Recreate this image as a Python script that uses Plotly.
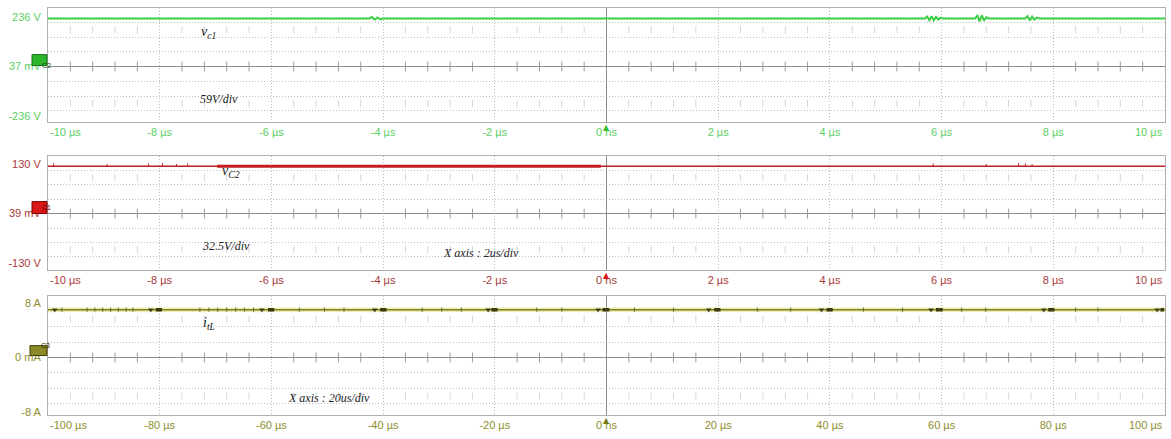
import numpy as np
import plotly.graph_objects as go

W, H = 1171, 439

# ---------------- data ----------------
# Channel C2 : v_c1 (V) over -10..10 us
vc1_t = [-10.0, -4.25, -4.2, -4.15, -4.1, -4.05, -4.0,
         5.70, 5.74, 5.78, 5.82, 5.86, 5.90, 5.94, 5.98, 6.02,
         6.60, 6.64, 6.68, 6.72, 6.76, 6.80, 6.84,
         7.50, 7.54, 7.58, 7.62, 7.66, 7.70, 7.75, 10.0]
vc1_v = [228, 228, 235, 222, 233, 224, 228,
         228, 237, 220, 239, 219, 235, 223, 232, 228,
         228, 241, 214, 243, 218, 234, 228,
         228, 239, 218, 237, 222, 232, 228, 228]

# Channel C1 : v_C2 (V) over -10..10 us
vc2_t = [-10.0, 10.0]
vc2_v = [124, 124]
vc2_dense_t = [-6.97, -0.1]          # stretch with dense ripple
vc2_dense_v = [124, 124]
vc2_spike_t = [-9.9, -8.94, -8.2, -7.95, -7.7, -7.5, 5.85, 6.8, 7.38, 7.5, 7.62]
vc2_spike_v = [131, 130, 131, 132, 130, 131, 131, 130, 132, 131, 130]

# Channel C3 : i_tL (A) over -100..100 us
il_t = [-100.0, 100.0]
il_v = [7.0, 7.0]
il_tri_t = [-98.8, -81.6, -61.7, -41.5, -21.2, -1.5, 18.3, 38.5, 58.1, 78.3, 98.6]
il_dot_t = [-80.4, -79.9, -60.3, -59.8, -40.2, -39.7, -20.3, -19.8, -0.4, 0.2,
            19.6, 20.1, 39.7, 40.2, 59.3, 59.9, 79.4, 79.9, 99.5]
il_tick_t = [-97.5, -93.0, -91.6, -90.2, -88.8, -87.4, -86.0, -84.8,
             -72.8, -71.2, -69.6, -68.0, -66.4, -64.8, -63.2,
             -55.0, -50.5, -47.0, -33.0, -29.5, -26.0, -12.5, -8.0,
             5.0, 12.0, 27.0, 33.0, 46.0, 53.0, 63.6, 67.9, 84.0, 88.0]

# axis ticks / labels (the end labels are placed against the box edges)
x1_ticks = [-8, -6, -4, -2, 0, 2, 4, 6, 8]
x1_text = ["-8 µs", "-6 µs", "-4 µs", "-2 µs", "0 ns", "2 µs", "4 µs", "6 µs", "8 µs"]
x3_ticks = [-80, -60, -40, -20, 0, 20, 40, 60, 80]
x3_text = ["-80 µs", "-60 µs", "-40 µs", "-20 µs", "0 ns", "20 µs", "40 µs", "60 µs", "80 µs"]

y1_ticks, y1_text = [-236, 0, 236], ["-236 V", "37 mV", "236 V"]
y2_ticks, y2_text = [-130, 0, 130], ["-130 V", "39 mV", "130 V"]
y3_ticks, y3_text = [-8, 0, 8], ["-8 A", "0 mA", "8 A"]

# ---------------- layout helpers ----------------
def px(x):
    return x / W


def py(y):
    return 1 - y / H


X0, X1 = 48, 1165
SANS = "Liberation Sans, Arial, sans-serif"
SERIF = "Liberation Serif, Times New Roman, serif"
GRID = "#bdbdbd"
DOT = "1px,2px"
BORDER = "#b0b0b0"

panels = [
    dict(top=8, bot=123, xr=[-10, 10], yr=[-264, 278], div=70, xstep=0.4,
         col="#5ccf66", mk="#2fbf2f", xt=x1_ticks, xtt=x1_text, yt=y1_ticks, ytt=y1_text,
         xl="-10 µs", xrgt="10 µs"),
    dict(top=157, bot=272, xr=[-10, 10], yr=[-148, 151], div=37.7, xstep=0.4,
         col="#a83a3a", mk="#e01414", xt=x1_ticks, xtt=x1_text, yt=y2_ticks, ytt=y2_text,
         xl="-10 µs", xrgt="10 µs"),
    dict(top=298, bot=418, xr=[-100, 100], yr=[-8.44, 9.0], div=2.25, xstep=4,
         col="#8e8e2e", mk="#7a7a10", xt=x3_ticks, xtt=x3_text, yt=y3_ticks, ytt=y3_text,
         xl="-100 µs", xrgt="100 µs"),
]

fig = go.Figure()
layout = dict(width=W, height=H, margin=dict(l=0, r=0, t=0, b=0), autosize=False,
              paper_bgcolor="white", plot_bgcolor="white", showlegend=False)
annotations = []
shapes = []

for i, p in enumerate(panels, start=1):
    xa = "x" if i == 1 else f"x{i}"
    ya = "y" if i == 1 else f"y{i}"
    xkey = "xaxis" if i == 1 else f"xaxis{i}"
    ykey = "yaxis" if i == 1 else f"yaxis{i}"
    d = p["div"]
    layout[xkey] = dict(
        domain=[px(X0), px(X1)], anchor=ya, range=p["xr"], tickmode="array",
        tickvals=p["xt"], ticktext=p["xtt"], ticks="", showgrid=True,
        gridcolor=GRID, griddash=DOT, gridwidth=1, zeroline=True,
        zerolinecolor="#8c8c8c", zerolinewidth=1, showline=True, mirror=True,
        linecolor=BORDER, linewidth=1, tickfont=dict(family=SANS, size=11, color=p["col"]),
        fixedrange=True)
    layout[ykey] = dict(
        domain=[py(p["bot"]), py(p["top"])], anchor=xa, range=p["yr"], tickmode="array",
        tickvals=p["yt"], ticktext=p["ytt"], ticks="", showgrid=False,
        zeroline=True, zerolinecolor="#8c8c8c", zerolinewidth=1, showline=True,
        mirror=True, linecolor=BORDER, linewidth=1, ticklabelstandoff=4,
        tickfont=dict(family=SANS, size=11, color=p["col"]),
        minor=dict(tickvals=[k * d for k in (-3, -2, -1, 1, 2, 3)], showgrid=True,
                   gridcolor=GRID, griddash=DOT, gridwidth=1, ticks=""),
        fixedrange=True)

    # small graticule ticks along the centre row and the +-2.5 div rows
    xs = np.arange(p["xr"][0], p["xr"][1] + 1e-9, p["xstep"])
    major = (p["xr"][1] - p["xr"][0]) / 10
    xs = [v for v in xs if abs(v / major - round(v / major)) > 1e-6]
    fig.add_trace(go.Scatter(x=xs, y=[0] * len(xs), mode="markers", xaxis=xa, yaxis=ya,
                             marker=dict(symbol="line-ns", size=7,
                                         line=dict(color="#9a9a9a", width=1)),
                             hoverinfo="skip"))
    for row in (-2.5 * d, 2.5 * d):
        fig.add_trace(go.Scatter(x=xs, y=[row] * len(xs), mode="markers", xaxis=xa, yaxis=ya,
                                 marker=dict(symbol="line-ns", size=5,
                                             line=dict(color="#d6d6d6", width=1)),
                                 hoverinfo="skip"))

    # edge x labels aligned to the box edges
    yb = p["yr"][0]
    annotations.append(dict(x=p["xr"][0], y=yb, xref=xa, yref=ya, text=p["xl"],
                            showarrow=False, xanchor="left", yanchor="top", yshift=-2,
                            font=dict(family=SANS, size=11, color=p["col"])))
    annotations.append(dict(x=p["xr"][1], y=yb, xref=xa, yref=ya, text=p["xrgt"],
                            showarrow=False, xanchor="right", yanchor="top", yshift=-2,
                            font=dict(family=SANS, size=11, color=p["col"])))
    # trigger arrow at t = 0, sitting on top of the "0 ns" label
    annotations.append(dict(x=0, y=yb, xref=xa, yref=ya, text="▲", showarrow=False,
                            xanchor="center", yanchor="top", yshift=1,
                            font=dict(family="DejaVu Sans", size=8, color=p["mk"])))

# ---------------- traces ----------------
fig.add_trace(go.Scatter(x=vc1_t, y=vc1_v, mode="lines", xaxis="x", yaxis="y",
                         line=dict(color="#3ccf45", width=2), hoverinfo="skip"))

fig.add_trace(go.Scatter(x=vc2_t, y=vc2_v, mode="lines", xaxis="x2", yaxis="y2",
                         line=dict(color="#b82222", width=1.5), hoverinfo="skip"))
fig.add_trace(go.Scatter(x=vc2_dense_t, y=vc2_dense_v, mode="lines", xaxis="x2", yaxis="y2",
                         line=dict(color="#c41e1e", width=3), hoverinfo="skip"))
sx, sy = [], []
for t, v in zip(vc2_spike_t, vc2_spike_v):
    sx += [t, t, None]
    sy += [vc2_v[0], v, None]
fig.add_trace(go.Scatter(x=sx, y=sy, mode="lines", xaxis="x2", yaxis="y2",
                         line=dict(color="#b82222", width=1), hoverinfo="skip"))

fig.add_trace(go.Scatter(x=il_t, y=il_v, mode="lines", xaxis="x3", yaxis="y3",
                         line=dict(color="rgba(240,236,160,0.7)", width=5), hoverinfo="skip"))
fig.add_trace(go.Scatter(x=il_t, y=il_v, mode="lines", xaxis="x3", yaxis="y3",
                         line=dict(color="#7d7d1a", width=1.5), hoverinfo="skip"))
fig.add_trace(go.Scatter(x=il_tick_t, y=[il_v[0]] * len(il_tick_t), mode="markers",
                         xaxis="x3", yaxis="y3",
                         marker=dict(symbol="line-ns", size=3,
                                     line=dict(color="#6a6a30", width=1)), hoverinfo="skip"))
fig.add_trace(go.Scatter(x=il_tri_t, y=[il_v[0]] * len(il_tri_t), mode="markers",
                         xaxis="x3", yaxis="y3",
                         marker=dict(symbol="triangle-down", size=5, color="#3c3c14"),
                         hoverinfo="skip"))
fig.add_trace(go.Scatter(x=il_dot_t, y=[il_v[0]] * len(il_dot_t), mode="markers",
                         xaxis="x3", yaxis="y3",
                         marker=dict(symbol="square", size=3.5, color="#3c3c14"),
                         hoverinfo="skip"))

# ---------------- channel badges ----------------
badges = [
    (32, 55, 47, 66, "#2db52d", "#11701a", "C2", "#0a3a0a"),
    (32, 203, 47, 215, "#d81818", "#7a0000", "C1", "#5a0000"),
    (30, 348, 47, 358, "#8a8a28", "#3f3f00", "C3", "#2a2a00"),
]
for x0, y0, x1, y1, fill, edge, txt, tcol in badges:
    shapes.append(dict(type="rect", xref="paper", yref="paper", x0=px(x0), x1=px(x1),
                       y0=py(y1), y1=py(y0), fillcolor=fill, line=dict(color=edge, width=1),
                       layer="above"))
    annotations.append(dict(x=px((x0 + x1) / 2), y=py((y0 + y1) / 2), xref="paper",
                            yref="paper", text=txt, showarrow=False,
                            font=dict(family=SANS, size=7, color=tcol)))

# ---------------- text on the screen ----------------
def note(x, y, text, size=12):
    annotations.append(dict(x=px(x), y=py(y), xref="paper", yref="paper", text=text,
                            showarrow=False, xanchor="left", yanchor="middle",
                            font=dict(family=SERIF, size=size, color="#222222")))


note(199, 33, "<i>v<sub>c1</sub></i>", 14)
note(198, 100, "<i>59V/div</i>", 12)
note(220, 173, "<i>v<sub>C2</sub></i>", 14)
note(200, 248, "<i>32.5V/div</i>", 12)
note(441, 255, "<i>X axis : 2us/div</i>", 12)
note(201, 326, "<i>i<sub>tL</sub></i>", 14)
note(286, 401, "<i>X axis : 20us/div</i>", 12)

layout["annotations"] = annotations
layout["shapes"] = shapes
fig.update_layout(**layout)
fig.write_html("out.html")
